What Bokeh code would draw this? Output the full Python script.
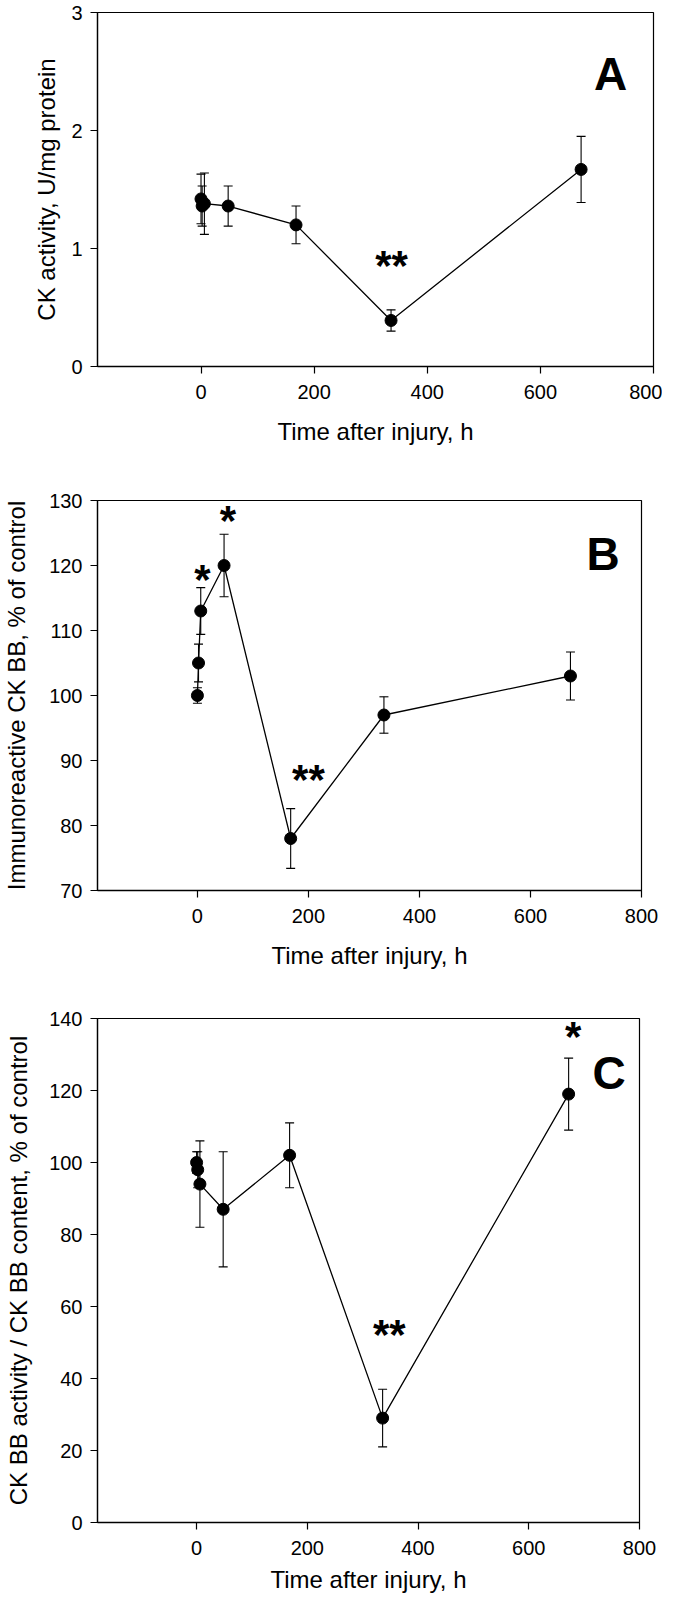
from bokeh.plotting import figure
from bokeh.layouts import column
from bokeh.models import FixedTicker, Whisker, ColumnDataSource, TeeHead, Range1d
from bokeh.core.properties import value
from bokeh.embed import file_html
from bokeh.resources import INLINE

# ---- data ----
time_h = [0, 2, 6, 48, 168, 336, 672]

ck_activity = [1.42, 1.36, 1.38, 1.36, 1.20, 0.39, 1.67]
ck_activity_err = [0.21, 0.17, 0.26, 0.17, 0.16, 0.09, 0.28]

ckbb_content = [100, 105, 113, 120, 78, 97, 103]
ckbb_content_err = [1.2, 2.9, 3.6, 4.8, 4.6, 2.8, 3.7]

ckbb_ratio = [100, 98, 94, 87, 102, 29, 119]
ckbb_ratio_err = [3, 5, 12, 16, 9, 8, 10]

x_ticks = [0, 200, 400, 600, 800]
a_ticks = [0, 1, 2, 3]
b_ticks = [70, 80, 90, 100, 110, 120, 130]
c_ticks = [0, 20, 40, 60, 80, 100, 120, 140]

a_sig_x, a_sig_y, a_sig_t = [337], [0.855], ["**"]
b_sig_x, b_sig_y, b_sig_t = [9, 55, 200], [117.9, 126.9, 87.1], ["*", "*", "**"]
c_sig_x, c_sig_y, c_sig_t = [680, 348], [135.0, 52.1], ["*", "**"]

panel_letters = ["A", "B", "C"]
letter_x = [724, 731, 745]
letter_y = [2.48, 121.7, 125.0]

x_label = "Time after injury, h"
y_labels = ["CK activity, U/mg protein",
            "Immunoreactive CK BB, % of control",
            "CK BB activity / CK BB content, % of control"]

FONT = "Liberation Sans"


def make_panel(xr, yr, yticks, ylab, yvals, yerr, sx, sy, st, letter, lx, ly,
               fw, fh, bl, br, bt, bb, ylab_standoff, xlab_standoff):
    p = figure(x_range=Range1d(*xr), y_range=Range1d(*yr),
               frame_width=fw, frame_height=fh,
               min_border_left=bl, min_border_right=br,
               min_border_top=bt, min_border_bottom=bb,
               output_backend="svg", toolbar_location=None)
    p.grid.visible = False
    p.outline_line_color = "black"
    p.outline_line_width = 1.2
    p.outline_line_alpha = 1.0
    p.background_fill_color = "white"
    p.border_fill_color = "white"

    for ax in (p.xaxis[0], p.yaxis[0]):
        ax.axis_line_color = "black"
        ax.axis_line_width = 1.3
        ax.major_tick_line_color = "black"
        ax.major_tick_line_width = 1.2
        ax.major_tick_out = 7
        ax.major_tick_in = 0
        ax.minor_tick_out = 0
        ax.minor_tick_in = 0
        ax.major_label_text_font = FONT
        ax.major_label_text_font_size = "20px"
        ax.major_label_text_color = "black"
        ax.axis_label_text_font = FONT
        ax.axis_label_text_font_size = "24px"
        ax.axis_label_text_font_style = "normal"
        ax.axis_label_text_color = "black"

    p.xaxis.ticker = FixedTicker(ticks=x_ticks)
    p.yaxis.ticker = FixedTicker(ticks=yticks)
    p.xaxis.axis_label = x_label
    p.yaxis.axis_label = ylab
    p.xaxis.major_label_standoff = 11
    p.xaxis.axis_label_standoff = xlab_standoff
    p.yaxis.major_label_standoff = 8
    p.yaxis.axis_label_standoff = ylab_standoff

    upper = [v + e for v, e in zip(yvals, yerr)]
    lower = [v - e for v, e in zip(yvals, yerr)]
    src = ColumnDataSource(dict(x=time_h, y=yvals, upper=upper, lower=lower))
    w = Whisker(source=src, base="x", upper="upper", lower="lower",
                line_color="black", line_width=1.1,
                upper_head=TeeHead(size=9, line_color="black", line_width=1.1),
                lower_head=TeeHead(size=9, line_color="black", line_width=1.1))
    p.add_layout(w)
    p.line("x", "y", source=src, line_color="black", line_width=1.3)
    p.scatter("x", "y", source=src, size=12, marker="circle",
              fill_color="black", line_color="black")

    p.text(x=sx, y=sy, text=st, text_font=value(FONT), text_font_size="42px",
           text_font_style="bold", text_align="center",
           text_baseline="middle", text_color="black")
    p.text(x=[lx], y=[ly], text=[letter], text_font=value(FONT),
           text_font_size="46px", text_font_style="bold", text_align="center",
           text_baseline="middle", text_color="black")
    return p


pA = make_panel((-183, 800), (0, 3), a_ticks, y_labels[0], ck_activity,
                ck_activity_err, a_sig_x, a_sig_y, a_sig_t,
                panel_letters[0], letter_x[0], letter_y[0],
                fw=556, fh=354, bl=96, br=10, bt=12, bb=86,
                ylab_standoff=8, xlab_standoff=16)
pB = make_panel((-180, 800), (70, 130), b_ticks, y_labels[1], ckbb_content,
                ckbb_content_err, b_sig_x, b_sig_y, b_sig_t,
                panel_letters[1], letter_x[1], letter_y[1],
                fw=544, fh=390, bl=92, br=26, bt=48, bb=92,
                ylab_standoff=16, xlab_standoff=16)
pC = make_panel((-179, 800), (0, 140), c_ticks, y_labels[2], ckbb_ratio,
                ckbb_ratio_err, c_sig_x, c_sig_y, c_sig_t,
                panel_letters[2], letter_x[2], letter_y[2],
                fw=542, fh=504, bl=97, br=23, bt=36, bb=77,
                ylab_standoff=14, xlab_standoff=8)

layout = column(pA, pB, pC, spacing=0)
open("out.html", "w").write(file_html(layout, INLINE))
